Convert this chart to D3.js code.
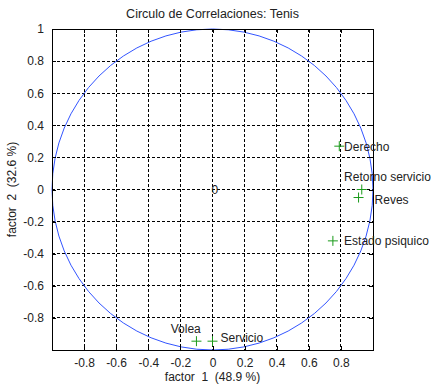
<!DOCTYPE html>
<html>
<head>
<meta charset="utf-8">
<script src="https://cdn.jsdelivr.net/npm/d3@7"></script>
<style>
  body { margin: 0; background: #fff; }
  text { font-family: "Liberation Sans", Arial, sans-serif; fill: #222; }
</style>
</head>
<body>
<div id="chart"></div>
<script>
// variables (correlations with factor 1 / factor 2)
var names = ["Derecho", "Retorno servicio", "Reves", "Estado psiquico", "Volea", "Servicio"];
var f1 = [0.79, 0.93, 0.91, 0.75, -0.10, 0.0];
var f2 = [0.27, 0.0, -0.05, -0.32, -0.945, -0.945];
// where the labels sit, in data units (placed by hand in the original)
var labelX = [0.82, 0.82, 1.01, 0.82, -0.26, 0.05];
var labelY = [0.268, 0.077, -0.065, -0.32, -0.87, -0.925];

var xTicks = [-0.8, -0.6, -0.4, -0.2, 0, 0.2, 0.4, 0.6, 0.8];
var yTicks = [-0.8, -0.6, -0.4, -0.2, 0, 0.2, 0.4, 0.6, 0.8, 1];
var gridVals = [-0.8, -0.6, -0.4, -0.2, 0, 0.2, 0.4, 0.6, 0.8];

var width = 431, height = 385;
var margin = {left: 52, right: 58, top: 29, bottom: 35};

var svg = d3.select("#chart").append("svg")
  .attr("width", width)
  .attr("height", height);

var x = d3.scaleLinear().domain([-1, 1]).range([margin.left, width - margin.right]);
var y = d3.scaleLinear().domain([-1, 1]).range([height - margin.bottom, margin.top]);

// dashed grid
svg.append("g").selectAll("line")
  .data(gridVals)
  .enter().append("line")
  .attr("x1", function(d) { return x(d); })
  .attr("x2", function(d) { return x(d); })
  .attr("y1", y(1)).attr("y2", y(-1))
  .attr("stroke", "#000")
  .attr("stroke-width", 1)
  .attr("stroke-dasharray", "3,2")
  .attr("shape-rendering", "crispEdges");

svg.append("g").selectAll("line")
  .data(gridVals)
  .enter().append("line")
  .attr("y1", function(d) { return y(d); })
  .attr("y2", function(d) { return y(d); })
  .attr("x1", x(-1)).attr("x2", x(1))
  .attr("stroke", "#000")
  .attr("stroke-width", 1)
  .attr("stroke-dasharray", "3,2")
  .attr("shape-rendering", "crispEdges");

// unit circle
svg.append("circle")
  .attr("cx", x(0))
  .attr("cy", y(0))
  .attr("r", x(1) - x(0))
  .attr("fill", "none")
  .attr("stroke", "#3355ff")
  .attr("stroke-width", 1);

// axes (ticks inward, MATLAB style)
var fmt = function(d) { return d === 0 ? "0" : String(+d.toFixed(1)); };
var xAxis = svg.append("g")
  .attr("transform", "translate(0," + y(-1) + ")")
  .call(d3.axisBottom(x).tickValues(xTicks).tickSize(-4).tickPadding(8).tickFormat(fmt));
var xAxisTop = svg.append("g")
  .attr("transform", "translate(0," + y(1) + ")")
  .call(d3.axisTop(x).tickValues(xTicks).tickSize(-4).tickFormat(""));
var yAxis = svg.append("g")
  .attr("transform", "translate(" + x(-1) + ",0)")
  .call(d3.axisLeft(y).tickValues(yTicks).tickSize(-4).tickPadding(8).tickFormat(fmt));
var yAxisRight = svg.append("g")
  .attr("transform", "translate(" + x(1) + ",0)")
  .call(d3.axisRight(y).tickValues(yTicks).tickSize(-4).tickFormat(""));

[xAxis, xAxisTop, yAxis, yAxisRight].forEach(function(a) {
  a.selectAll("path").attr("stroke", "#000").attr("shape-rendering", "crispEdges");
  a.selectAll("line").attr("stroke", "#000").attr("shape-rendering", "crispEdges");
  a.selectAll("text").style("font-size", "12px").attr("fill", "#222")
    .style("font-family", "'Liberation Sans', Arial, sans-serif");
});

// "0" marking the origin
svg.append("text")
  .attr("x", x(0) - 1)
  .attr("y", y(0))
  .attr("dy", "0.35em")
  .style("font-size", "12px")
  .text("0");

// points as "+" markers
var pts = svg.append("g").selectAll("g")
  .data(names)
  .enter().append("g")
  .attr("transform", function(d, i) { return "translate(" + x(f1[i]) + "," + y(f2[i]) + ")"; });

pts.append("line").attr("x1", -5).attr("x2", 5).attr("y1", 0).attr("y2", 0)
  .attr("stroke", "#1a9a1a").attr("stroke-width", 1);
pts.append("line").attr("x1", 0).attr("x2", 0).attr("y1", -5).attr("y2", 5)
  .attr("stroke", "#1a9a1a").attr("stroke-width", 1);

// labels
svg.append("g").selectAll("text")
  .data(names)
  .enter().append("text")
  .attr("x", function(d, i) { return x(labelX[i]); })
  .attr("y", function(d, i) { return y(labelY[i]); })
  .attr("dy", "0.35em")
  .style("font-size", "12px")
  .text(String);

// title and axis labels
svg.append("text")
  .attr("x", x(0))
  .attr("y", 18)
  .attr("text-anchor", "middle")
  .style("font-size", "12.5px")
  .text("Circulo de Correlaciones: Tenis");

svg.append("text")
  .attr("x", x(0))
  .attr("y", 381)
  .attr("text-anchor", "middle")
  .style("font-size", "12px")
  .style("white-space", "pre")
  .text("factor  1  (48.9 %)");

svg.append("text")
  .attr("transform", "translate(16," + y(0) + ") rotate(-90)")
  .attr("text-anchor", "middle")
  .style("font-size", "12px")
  .style("white-space", "pre")
  .text("factor  2  (32.6 %)");
</script>
</body>
</html>
